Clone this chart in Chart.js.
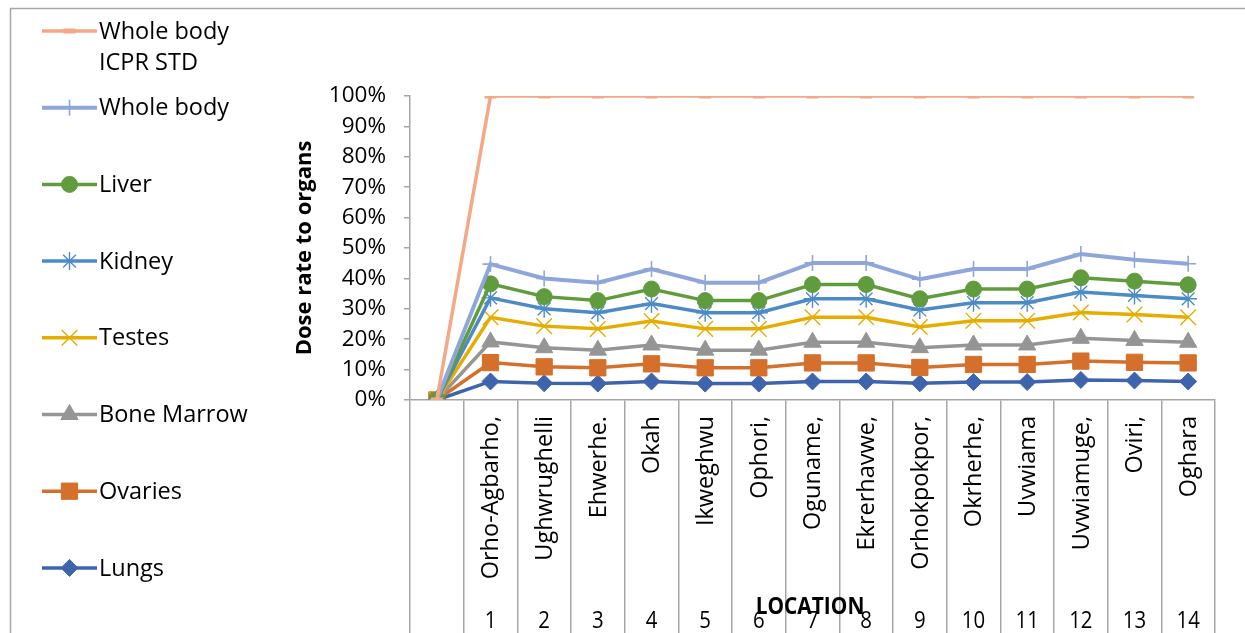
<!DOCTYPE html>
<html>
<head>
<meta charset="utf-8">
<script src="https://cdn.jsdelivr.net/npm/chart.js@4/dist/chart.umd.min.js"></script>
<style>
  html, body { margin: 0; padding: 0; background: #ffffff; }
  #wrap { position: relative; width: 1245px; height: 633px; overflow: hidden; }
  canvas { display: block; }
</style>
</head>
<body>
<div id="wrap"><canvas id="chart" width="1245" height="633"></canvas></div>
<script>
// Location names and their index numbers (first slot is the empty origin)
const locationNames = ['', 'Orho-Agbarho,', 'Ughwrughelli', 'Ehwerhe.', 'Okah', 'Ikweghwu', 'Ophori,',
  'Oguname,', 'Ekrerhavwe,', 'Orhokpokpor,', 'Okrherhe,', 'Uvwiama', 'Uvwiamuge,', 'Oviri,', 'Oghara'];
const locationNumbers = ['', '1', '2', '3', '4', '5', '6', '7', '8', '9', '10', '11', '12', '13', '14'];

// Dose rate to organs (% of ICPR standard)
const icprStd     = [0, 100, 100, 100, 100, 100, 100, 100, 100, 100, 100, 100, 100, 100, 100];
const wholeBody   = [0, 44.7, 40.0, 38.6, 43.1, 38.6, 38.6, 45.1, 45.1, 39.7, 43.1, 43.1, 48.0, 46.1, 44.8];
const liver       = [0, 38.2, 34.0, 32.7, 36.5, 32.7, 32.7, 38.0, 38.0, 33.3, 36.5, 36.5, 40.2, 39.1, 37.9];
const kidney      = [0, 33.6, 30.0, 28.7, 31.7, 28.7, 28.7, 33.3, 33.3, 29.6, 32.0, 32.0, 35.5, 34.4, 33.3];
const testes      = [0, 27.2, 24.3, 23.4, 26.0, 23.4, 23.4, 27.2, 27.2, 24.0, 26.1, 26.1, 28.8, 28.1, 27.2];
const boneMarrow  = [0, 19.1, 17.2, 16.4, 18.1, 16.4, 16.4, 19.0, 19.0, 17.2, 18.1, 18.1, 20.3, 19.6, 19.0];
const ovaries     = [0, 12.3, 10.9, 10.6, 11.9, 10.6, 10.6, 12.2, 12.2, 10.7, 11.7, 11.7, 12.8, 12.4, 12.2];
const lungs       = [0, 6.1, 5.5, 5.4, 6.1, 5.4, 5.4, 6.1, 6.1, 5.5, 5.9, 5.9, 6.6, 6.4, 6.1];

const yTicks = [0, 10, 20, 30, 40, 50, 60, 70, 80, 90, 100];

const AXIS_GRAY = '#a6a6a6';
const FONT = '"Open Sans", sans-serif';

function series(label, data, color, style, radius, pbw, lw) {
  return {
    label: label,
    data: data,
    borderColor: color,
    backgroundColor: color,
    pointBackgroundColor: color,
    pointBorderColor: color,
    pointStyle: style,
    pointRadius: radius,
    pointHoverRadius: radius,
    pointBorderWidth: pbw,
    borderWidth: lw,
    tension: 0,
    fill: false
  };
}

const datasets = [
  series('Whole body ICPR STD', icprStd, '#f4a886', 'line', 6, 5, 3.5),
  series('Whole body', wholeBody, '#8ea6d9', 'cross', 8, 1.6, 4),
  series('Liver', liver, '#609b3d', 'circle', 8, 1, 3.5),
  series('Kidney', kidney, '#4d8bc7', 'star', 9, 1.4, 3.5),
  series('Testes', testes, '#e6ad00', 'crossRot', 11, 1.4, 3.5),
  series('Bone Marrow', boneMarrow, '#959595', 'triangle', 10, 1, 3.5),
  series('Ovaries', ovaries, '#d4702b', 'rect', 11.5, 1, 3.5),
  series('Lungs', lungs, '#3e64ae', 'rectRot', 8.5, 1, 3.5)
];

// Frame, legend, category labels and axis titles
const decorations = {
  id: 'decorations',
  beforeDraw(chart) {
    const ctx = chart.ctx;
    ctx.save();
    ctx.strokeStyle = AXIS_GRAY;
    ctx.lineWidth = 1.5;
    ctx.beginPath();
    ctx.moveTo(10.5, 640);
    ctx.lineTo(10.5, 8.5);
    ctx.lineTo(1300, 8.5);
    ctx.stroke();
    ctx.restore();
  },
  afterDraw(chart) {
    const ctx = chart.ctx;
    const xs = chart.scales.x;
    ctx.save();

    // legend
    const lx0 = 42, lx1 = 97, tx = 99;
    ctx.font = '23.5px ' + FONT;
    ctx.textBaseline = 'middle';
    ctx.textAlign = 'left';
    chart.data.datasets.forEach((ds, i) => {
      const y = 31 + i * 76.7;
      ctx.strokeStyle = ds.borderColor;
      ctx.lineWidth = ds.borderWidth;
      ctx.beginPath();
      ctx.moveTo(lx0, y);
      ctx.lineTo(lx1, y);
      ctx.stroke();
      ctx.fillStyle = ds.pointBackgroundColor;
      ctx.strokeStyle = ds.pointBorderColor;
      ctx.lineWidth = ds.pointBorderWidth;
      Chart.helpers.drawPoint(ctx, {
        pointStyle: ds.pointStyle, radius: ds.pointRadius,
        borderWidth: ds.pointBorderWidth, rotation: 0
      }, (lx0 + lx1) / 2, y);
      // wrap long names onto two lines
      const words = ds.label.split(' ');
      const lines = [];
      let cur = '';
      words.forEach(w => {
        const test = cur ? cur + ' ' + w : w;
        if (ctx.measureText(test).width > 150 && cur) { lines.push(cur); cur = w; }
        else cur = test;
      });
      lines.push(cur);
      ctx.fillStyle = '#000000';
      lines.forEach((t, k) => ctx.fillText(t, tx, y + 1 + k * 31));
    });

    // rotated location names and index numbers
    for (let i = 1; i < locationNames.length; i++) {
      const x = xs.getPixelForValue(i);
      ctx.save();
      ctx.translate(x + 1, 416);
      ctx.rotate(-Math.PI / 2);
      ctx.font = '23.5px ' + FONT;
      ctx.fillStyle = '#000000';
      ctx.textAlign = 'right';
      ctx.textBaseline = 'middle';
      ctx.fillText(locationNames[i], 0, 0);
      ctx.restore();

      ctx.save();
      ctx.translate(x, 621);
      ctx.scale(0.85, 1);
      ctx.font = '24px ' + FONT;
      ctx.fillStyle = '#000000';
      ctx.textAlign = 'center';
      ctx.textBaseline = 'middle';
      ctx.fillText(locationNumbers[i], 0, 0);
      ctx.restore();
    }

    // axis titles
    ctx.fillStyle = '#000000';
    ctx.textAlign = 'center';
    ctx.textBaseline = 'middle';

    ctx.save();
    ctx.translate(810, 607);
    ctx.scale(0.87, 1);
    ctx.font = 'bold 24px ' + FONT;
    ctx.fillText('LOCATION', 0, 0);
    ctx.restore();

    ctx.save();
    ctx.translate(305, 248);
    ctx.rotate(-Math.PI / 2);
    ctx.font = 'bold 22px ' + FONT;
    ctx.fillText('Dose rate to organs', 0, 0);
    ctx.restore();

    ctx.restore();
  }
};

new Chart(document.getElementById('chart'), {
  type: 'line',
  data: { labels: locationNames, datasets: datasets },
  options: {
    responsive: false,
    animation: false,
    devicePixelRatio: 1,
    layout: { padding: { top: 96, right: 30, bottom: 0, left: 0 } },
    plugins: { legend: { display: false }, tooltip: { enabled: false } },
    scales: {
      x: {
        type: 'category',
        offset: true,
        ticks: { display: false },
        grid: {
          offset: true,
          drawOnChartArea: false,
          drawTicks: true,
          tickLength: 240,
          color: AXIS_GRAY,
          lineWidth: 1.5
        },
        border: { display: true, color: AXIS_GRAY, width: 1.5 },
        afterFit(scale) { scale.height = 233; }
      },
      y: {
        min: 0,
        max: 100,
        afterBuildTicks(scale) { scale.ticks = yTicks.map(v => ({ value: v })); },
        ticks: {
          callback: v => v + '%',
          color: '#000000',
          font: { family: 'Open Sans', size: 22.5 },
          padding: 18
        },
        grid: {
          drawOnChartArea: false,
          drawTicks: true,
          tickLength: 6,
          color: AXIS_GRAY,
          lineWidth: 1.5
        },
        border: { display: true, color: AXIS_GRAY, width: 1.5 },
        afterFit(scale) { scale.width = 410; }
      }
    }
  },
  plugins: [decorations]
});
</script>
</body>
</html>
